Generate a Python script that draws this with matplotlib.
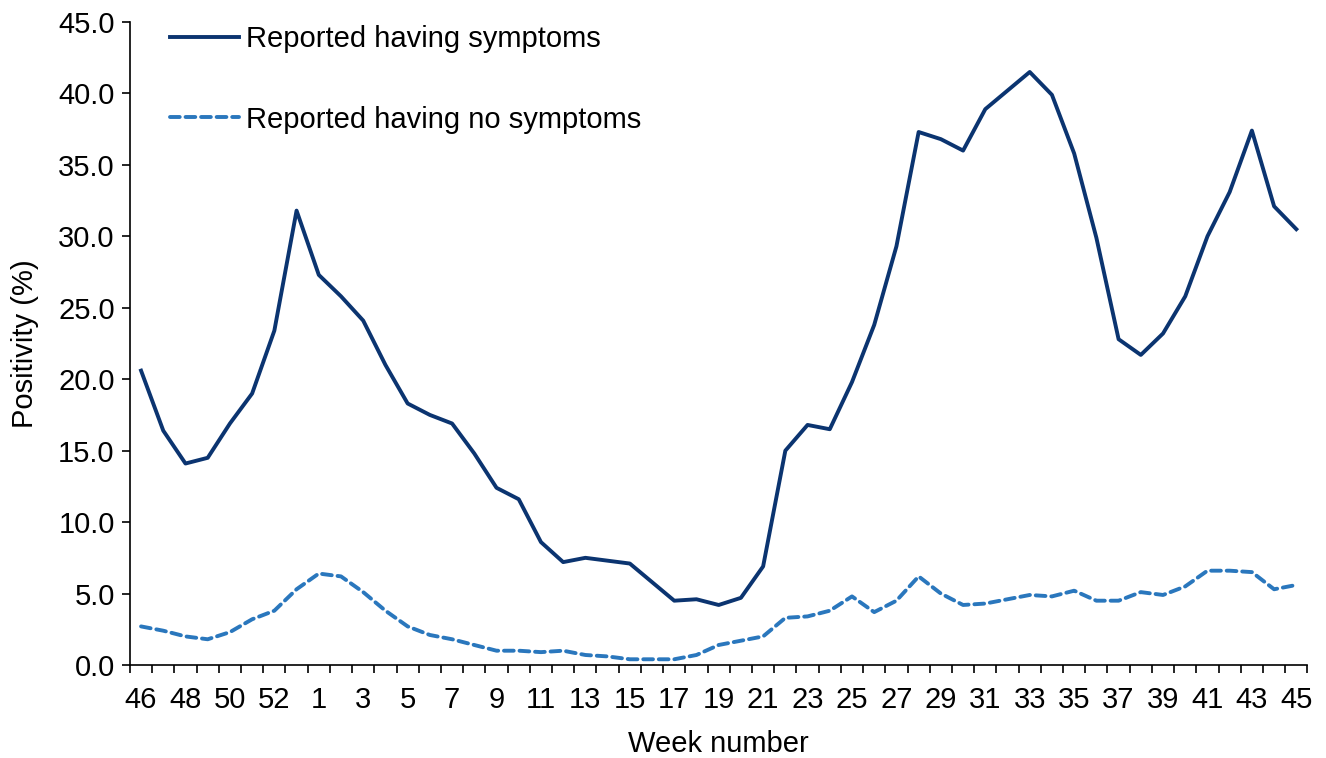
import numpy as np
import matplotlib
matplotlib.use('Agg')
import matplotlib.pyplot as plt

plt.rcParams['font.family'] = ['Liberation Sans', 'DejaVu Sans']

# semanas: 46..53 de um ano, depois 1..45
weeks = [46, 47, 48, 49, 50, 51, 52, 53] + list(range(1, 46))

symptoms = [20.6, 16.4, 14.1, 14.5, 16.9, 19.0, 23.4, 31.8, 27.3, 25.8,
            24.1, 21.0, 18.3, 17.5, 16.9, 14.8, 12.4, 11.6, 8.6, 7.2,
            7.5, 7.3, 7.1, 5.8, 4.5, 4.6, 4.2, 4.7, 6.9, 15.0,
            16.8, 16.5, 19.8, 23.8, 29.3, 37.3, 36.8, 36.0, 38.9, 40.2,
            41.5, 39.9, 35.8, 29.9, 22.8, 21.7, 23.2, 25.8, 30.0, 33.1,
            37.4, 32.1, 30.5]

no_symptoms = [2.7, 2.4, 2.0, 1.8, 2.3, 3.2, 3.8, 5.3, 6.4, 6.2,
               5.1, 3.8, 2.7, 2.1, 1.8, 1.4, 1.0, 1.0, 0.9, 1.0,
               0.7, 0.6, 0.4, 0.4, 0.4, 0.7, 1.4, 1.7, 2.0, 3.3,
               3.4, 3.8, 4.8, 3.7, 4.5, 6.2, 5.0, 4.2, 4.3, 4.6,
               4.9, 4.8, 5.2, 4.5, 4.5, 5.1, 4.9, 5.5, 6.6, 6.6,
               6.5, 5.3, 5.6]

x = np.arange(len(weeks))
fs = 21

fig = plt.figure(figsize=(13.26, 7.58), dpi=100)
ax = fig.add_axes([0.098, 0.1227, 0.888, 0.8483])

ax.plot(x, symptoms, color='#0b3470', lw=2.8, label='Reported having symptoms',
        solid_joinstyle='round')
ax.plot(x, no_symptoms, color='#2a77bd', lw=2.8, ls=(0, (2.5, 1.5)),
        label='Reported having no symptoms', dash_capstyle='round')

ax.set_xlim(-0.5, len(weeks) - 0.5)
ax.set_ylim(0, 45)
ax.set_yticks(np.arange(0, 45.1, 5))
ax.set_yticklabels([f'{v:.1f}' for v in np.arange(0, 45.1, 5)])

# marcas entre categorias (estilo Excel), rótulos a cada duas semanas
ax.set_xticks(np.arange(-0.5, len(weeks), 1), minor=False)
ax.set_xticklabels([])
ax.set_xticks(x[::2], minor=True)
ax.set_xticklabels([str(w) for w in weeks[::2]], minor=True)
ax.tick_params(axis='x', which='major', length=6, width=1.2, direction='out')
ax.tick_params(axis='x', which='minor', length=0, pad=15, labelsize=fs)
ax.tick_params(axis='y', length=6, width=1.2, labelsize=fs, pad=5)

for s in ['top', 'right']:
    ax.spines[s].set_visible(False)
for s in ['left', 'bottom']:
    ax.spines[s].set_linewidth(1.2)

ax.set_xlabel('Week number', fontsize=fs, labelpad=12)
ax.set_ylabel('Positivity (%)', fontsize=fs, labelpad=14)

ax.legend(frameon=False, loc='upper left', bbox_to_anchor=(0.034, 0.995),
          borderaxespad=0, borderpad=0, fontsize=fs, labelspacing=1.8,
          handlelength=2.35, handletextpad=0.25)

plt.savefig('out.png', dpi=100)
